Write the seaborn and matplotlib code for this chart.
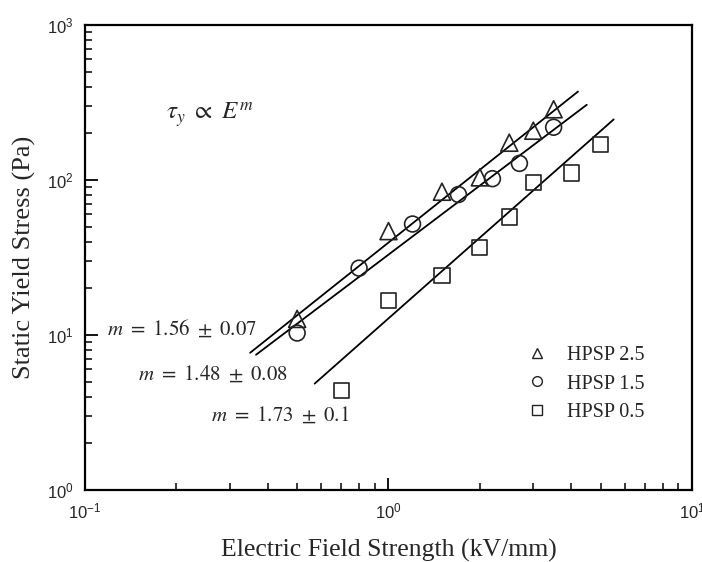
import numpy as np
import pandas as pd
import matplotlib
matplotlib.use("Agg")
import matplotlib.pyplot as plt
import seaborn as sns
from matplotlib.ticker import LogLocator
from matplotlib.lines import Line2D

# ---- data ----
series_names = ["HPSP 2.5", "HPSP 1.5", "HPSP 0.5"]
E_hpsp25 = [0.5, 1.0, 1.5, 2.0, 2.5, 3.0, 3.5]
tau_hpsp25 = [12.7, 46.8, 84, 104, 174, 208, 286]
E_hpsp15 = [0.5, 0.8, 1.2, 1.7, 2.2, 2.7, 3.5]
tau_hpsp15 = [10.3, 27, 52, 80.6, 102, 128, 219]
E_hpsp05 = [0.7, 1.0, 1.5, 2.0, 2.5, 3.0, 4.0, 5.0]
tau_hpsp05 = [4.37, 16.6, 24.3, 36.8, 57.8, 96, 111, 170]

fit_slopes = [1.56, 1.48, 1.73]
fit_prefactors = [39.5, 33.0, 12.8]
fit_E_start = [0.35, 0.366, 0.571]
fit_E_end = [4.21, 4.5, 5.52]
fit_labels = [r"$m\ =\ 1.56\ \pm\ 0.07$", r"$m\ =\ 1.48\ \pm\ 0.08$", r"$m\ =\ 1.73\ \pm\ 0.1$"]
fit_label_pos = [(0.1185, 10.9), (0.150, 5.56), (0.260, 3.04)]

xlabel = "Electric Field Strength (kV/mm)"
ylabel = "Static Yield Stress (Pa)"

sns.set_style("ticks")
plt.rcParams["font.family"] = ["Liberation Serif", "DejaVu Serif"]

df = pd.concat([
    pd.DataFrame({"E": E_hpsp25, "tau": tau_hpsp25, "series": series_names[0]}),
    pd.DataFrame({"E": E_hpsp15, "tau": tau_hpsp15, "series": series_names[1]}),
    pd.DataFrame({"E": E_hpsp05, "tau": tau_hpsp05, "series": series_names[2]}),
], ignore_index=True)

fig = plt.figure(figsize=(7.02, 5.62), dpi=100)
ax = fig.add_axes([85/702, 1-490/562, (692-85)/702, (490-25)/562])
ax.set_xscale("log")
ax.set_yscale("log")

markers = {"HPSP 2.5": "^", "HPSP 1.5": "o", "HPSP 0.5": "s"}
sizes = {"HPSP 2.5": 150, "HPSP 1.5": 130, "HPSP 0.5": 120}
for name in series_names:
    sub = df[df["series"] == name]
    sns.scatterplot(data=sub, x="E", y="tau", marker=markers[name], s=sizes[name],
                    color="black", ax=ax, zorder=3, legend=False)
    coll = ax.collections[-1]
    coll.set_facecolor("none")
    coll.set_edgecolor("#222222")
    coll.set_linewidth(1.2)

for m, A, e0, e1 in zip(fit_slopes, fit_prefactors, fit_E_start, fit_E_end):
    xe = np.geomspace(e0, e1, 20)
    sns.lineplot(x=xe, y=A * xe ** m, color="black", lw=1.3, ax=ax, zorder=2)

for lab, (xp, yp) in zip(fit_labels, fit_label_pos):
    ax.text(xp, yp, lab, fontsize=15, ha="left", va="center", math_fontfamily="stix")

ax.text(0.185, 263, r"$\tau_y\ \propto\ E^m$", fontsize=18, ha="left", va="center",
        math_fontfamily="stix")

# legend
handles = [Line2D([], [], marker=markers[n], ls="none", mfc="none", mec="#222222",
                  ms=7, mew=1.0) for n in series_names]
ax.legend(handles, series_names, loc="center left", bbox_to_anchor=(0.695, 0.228),
          frameon=False, fontsize=14.5, handletextpad=0.9, labelspacing=0.45,
          handlelength=1.2)

ax.set_xlim(0.1, 10)
ax.set_ylim(1, 1000)
ax.xaxis.set_major_locator(LogLocator(base=10, numticks=10))
ax.yaxis.set_major_locator(LogLocator(base=10, numticks=10))
ax.xaxis.set_minor_locator(LogLocator(base=10, subs=np.arange(2, 10), numticks=10))
ax.yaxis.set_minor_locator(LogLocator(base=10, subs=np.arange(2, 10), numticks=10))
ax.tick_params(which="both", direction="in", top=False, right=False, color="black")
ax.tick_params(which="major", length=9, width=1.3, labelsize=12, pad=8)
ax.tick_params(which="minor", length=5, width=1.1)
for lbl in ax.get_xticklabels() + ax.get_yticklabels():
    lbl.set_family("Liberation Sans")
for sp in ax.spines.values():
    sp.set_linewidth(1.6)
    sp.set_color("black")

ax.set_xlabel(xlabel, fontsize=18.5, labelpad=13)
ax.set_ylabel(ylabel, fontsize=19, labelpad=8)

fig.savefig("out.png", dpi=100)
